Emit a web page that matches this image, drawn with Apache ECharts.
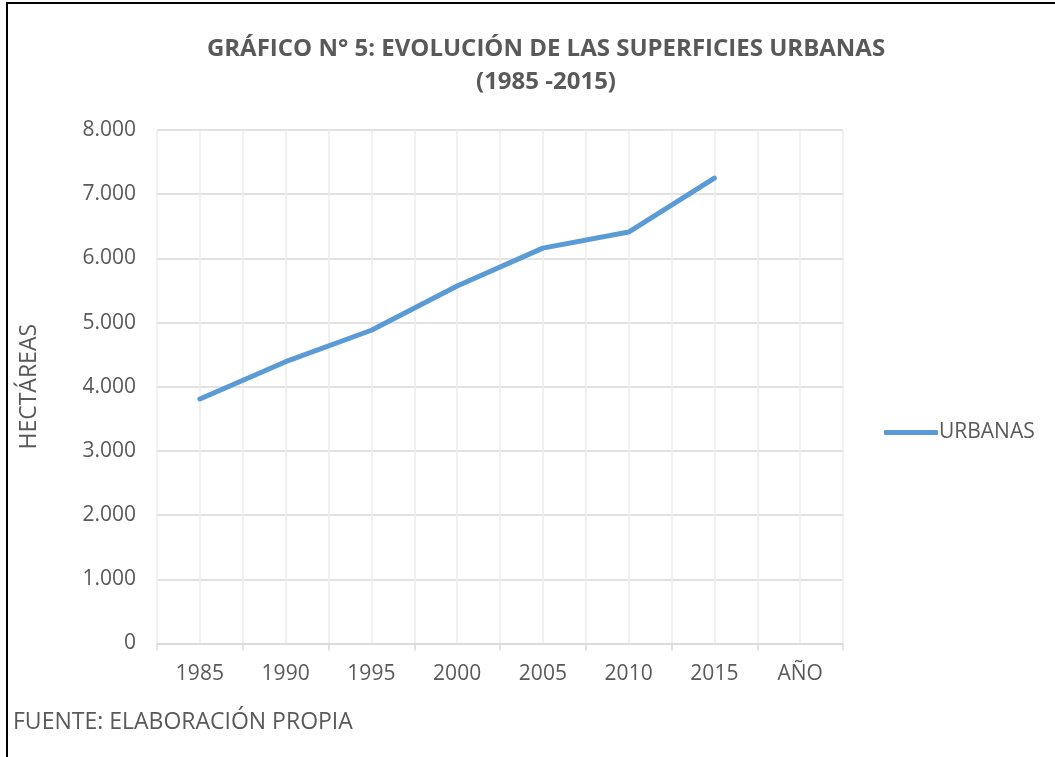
<!DOCTYPE html>
<html>
<head>
<meta charset="utf-8">
<script src="https://cdn.jsdelivr.net/npm/echarts@6/dist/echarts.min.js"></script>
<style>
  html, body { margin: 0; padding: 0; background: #ffffff; }
  #chart { width: 1055px; height: 757px; }
</style>
</head>
<body>
<div id="chart"></div>
<script>
const categories = ['1985', '1990', '1995', '2000', '2005', '2010', '2015', 'AÑO'];
const urbanas = [3810, 4390, 4880, 5570, 6160, 6410, 7250, null];
const seriesName = 'URBANAS';
const titleText = 'GRÁFICO N° 5: EVOLUCIÓN DE LAS SUPERFICIES URBANAS\n(1985 -2015)';
const yAxisTitle = 'HECTÁREAS';
const footerText = 'FUENTE: ELABORACIÓN PROPIA';

const textColor = '#595959';
const fontFam = '"Open Sans", "Liberation Sans", sans-serif';

const chart = echarts.init(document.getElementById('chart'), null, { renderer: 'canvas' });
chart.setOption({
  backgroundColor: '#ffffff',
  animation: false,
  title: [
    {
      text: titleText,
      left: 541,
      top: 28,
      textAlign: 'center',
      textStyle: { fontFamily: fontFam, fontWeight: 'bold', fontSize: 24, color: textColor, lineHeight: 33 }
    },
    {
      text: footerText,
      left: 8,
      top: 706,
      textStyle: { fontFamily: fontFam, fontWeight: 'normal', fontSize: 23, color: textColor }
    }
  ],
  graphic: [
    { type: 'rect', shape: { x: 7, y: 3, width: 1070, height: 780 }, style: { fill: 'none', stroke: '#000000', lineWidth: 2 }, silent: true }
  ],
  legend: {
    data: [{ name: seriesName, icon: 'roundRect' }],
    left: 879,
    top: 417,
    itemWidth: 54,
    itemHeight: 5,
    itemGap: 4,
    textStyle: { fontFamily: fontFam, fontSize: 21, color: textColor, padding: [0, 0, 0, -4] }
  },
  grid: { left: 157, right: 212, top: 130, bottom: 113.5 },
  xAxis: [
    {
      type: 'category',
      data: categories,
      boundaryGap: true,
      axisLine: { show: true, lineStyle: { color: '#d9d9d9', width: 1.5 } },
      axisTick: { show: true, length: 7, interval: 0, lineStyle: { color: '#d9d9d9', width: 1.5 } },
      axisLabel: { interval: 0, margin: 20, fontFamily: fontFam, fontSize: 21, color: textColor },
      splitLine: { show: false }
    },
    {
      type: 'value',
      min: 0,
      max: categories.length * 2,
      interval: 1,
      position: 'bottom',
      axisLine: { show: false },
      axisTick: { show: false },
      axisLabel: { show: false },
      splitLine: { show: true, lineStyle: { color: '#ececec', width: 1.5 } }
    }
  ],
  yAxis: {
    type: 'value',
    min: 0,
    max: 8000,
    interval: 1000,
    name: yAxisTitle,
    nameLocation: 'middle',
    nameGap: 116,
    nameRotate: 90,
    nameTextStyle: { fontFamily: fontFam, fontSize: 23, color: textColor },
    axisLine: { show: false },
    axisTick: { show: false },
    axisLabel: {
      margin: 21,
      fontFamily: fontFam,
      fontSize: 21,
      color: textColor,
      formatter: function (v) { return v === 0 ? '0' : v.toLocaleString('de-DE'); }
    },
    splitLine: { show: true, lineStyle: { color: '#d9d9d9', width: 1.5 } }
  },
  series: [
    {
      name: seriesName,
      type: 'line',
      xAxisIndex: 0,
      data: urbanas,
      showSymbol: false,
      symbol: 'none',
      lineStyle: { color: '#5b9bd5', width: 5, cap: 'round', join: 'round' },
      itemStyle: { color: '#5b9bd5' }
    }
  ]
});
</script>
</body>
</html>
